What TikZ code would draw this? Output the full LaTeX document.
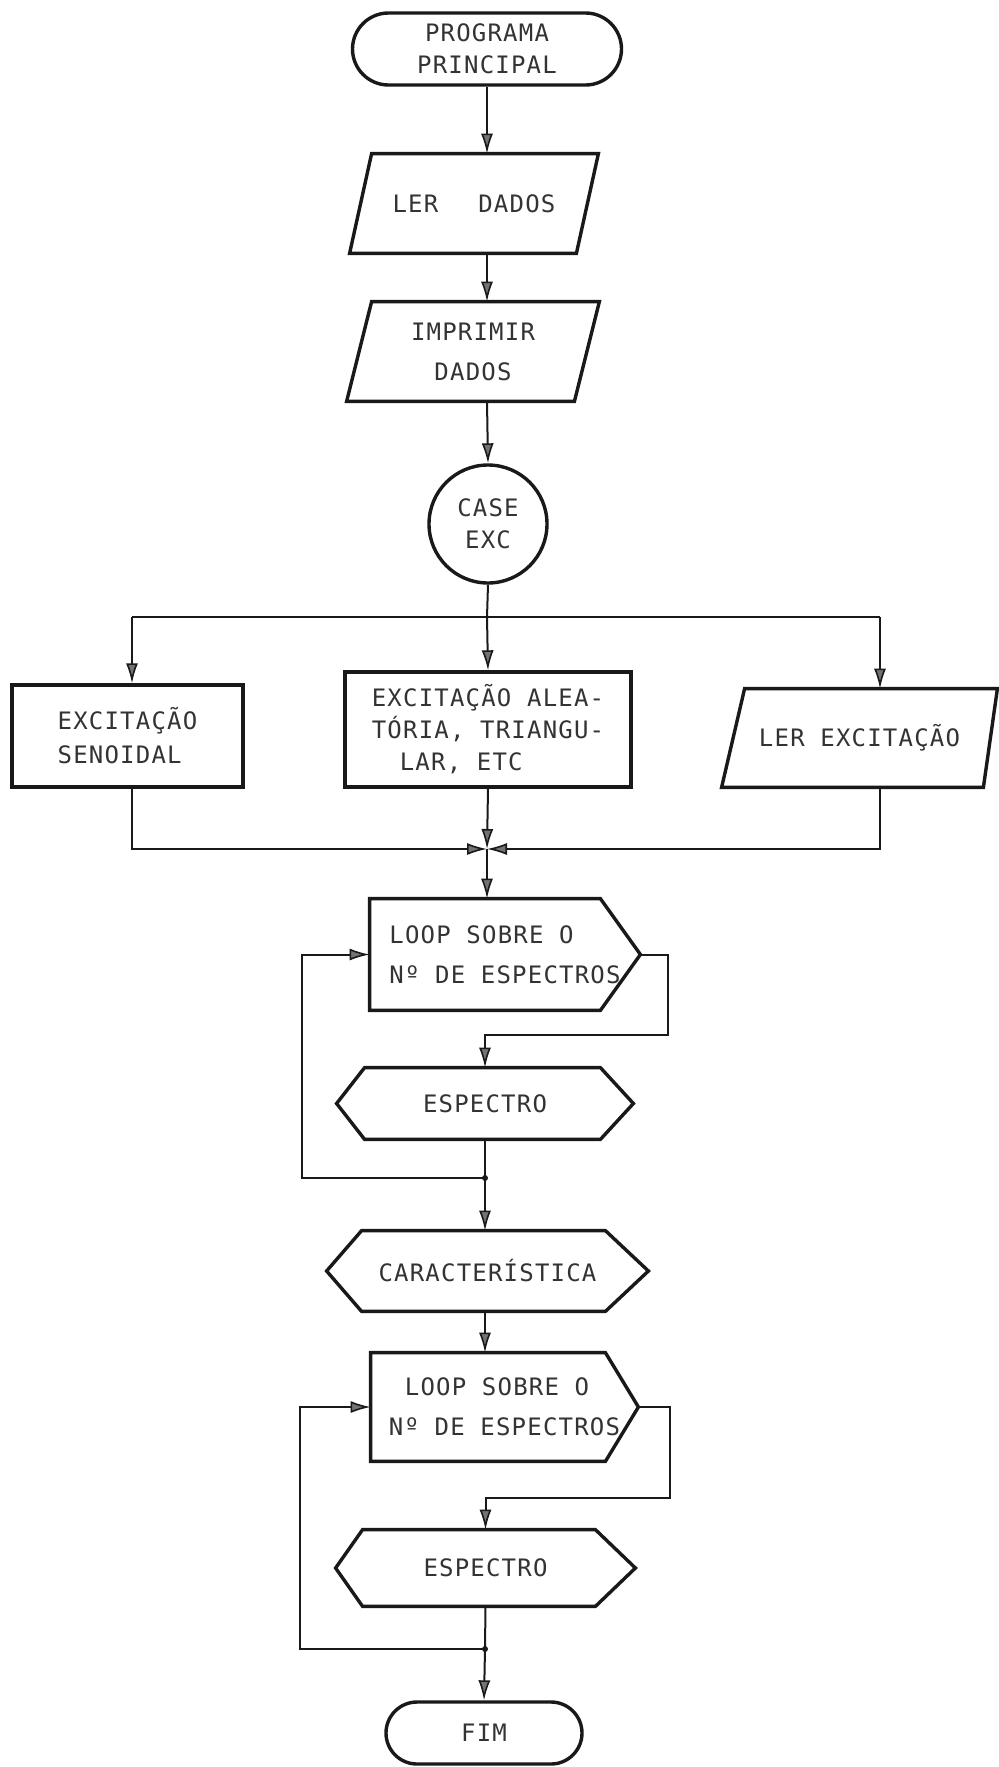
\documentclass[tikz,border=0pt]{standalone}
\usepackage{fontspec}
\usetikzlibrary{arrows.meta,shapes.misc,calc}
\newfontfamily\lett{DejaVu Sans Mono}[LetterSpace=5]
\begin{document}
\begin{tikzpicture}[x=0.5pt,y=-0.5pt,
  box/.style={line width=1.7pt, draw=black!90},
  conn/.style={line width=1pt, draw=black!90},
  arr/.style={conn,-{Latex[length=10pt,width=6pt,fill=black!55,line width=0.8pt]}},
  txt/.style={font=\lett\fontsize{12}{16}\selectfont, text=black!80, inner sep=0pt, align=center},
  term/.style={txt, rounded rectangle, box},
  plain/.style={txt, rectangle},
]
\useasboundingbox (0,0) rectangle (998,1767);
\fill[white] (0,0) rectangle (998,1767);

% nodes
\node[term, minimum width=134.5pt, minimum height=36pt] (start) at (487,49) {PROGRAMA\\PRINCIPAL};

\node[plain, minimum width=124pt, minimum height=49.5pt] (ler) at (474,203.5) {LER\hspace{20pt}DADOS};
\draw[box] ($(ler.north west)+(22,0)$) -- (ler.north east) -- ($(ler.south east)-(22,0)$) -- (ler.south west) -- cycle;

\node[plain, minimum width=126pt, minimum height=49.5pt] (imp) at (473,351.5) {IMPRIMIR\\[4pt]DADOS};
\draw[box] ($(imp.north west)+(25,0)$) -- (imp.north east) -- ($(imp.south east)-(25,0)$) -- (imp.south west) -- cycle;

\node[txt, circle, box, minimum size=59pt] (case) at (488,524) {CASE\\EXC};

\node[plain, box, minimum width=115.5pt, minimum height=51pt, align=left] (sen) at (127.5,736) {EXCITAÇÃO\\[1pt]SENOIDAL};
\node[plain, box, minimum width=143pt, minimum height=57.5pt, align=left] (mid) at (488,729.5) {EXCITAÇÃO ALEA-\\TÓRIA, TRIANGU-\\\hspace*{14pt}LAR, ETC};
\node[plain, minimum width=137.5pt, minimum height=49pt] (lerexc) at (859.5,738) {LER EXCITAÇÃO};
\draw[box] ($(lerexc.north west)+(23,0)$) -- (lerexc.north east) -- ($(lerexc.south east)-(14,0)$) -- (lerexc.south west) -- cycle;

\node[plain, minimum width=135pt, minimum height=55.5pt, align=left] (loop1) at (505,954.5) {LOOP SOBRE O\\[4pt]Nº DE ESPECTROS};
\draw[box] (loop1.north west) -- ($(loop1.north east)-(40,0)$) -- (loop1.east) -- ($(loop1.south east)-(40,0)$) -- (loop1.south west) -- cycle;

\node[plain, minimum width=148pt, minimum height=35.5pt] (esp1) at (485,1103.5) {ESPECTRO};
\draw[box] (esp1.west) -- ($(esp1.north west)+(28,0)$) -- ($(esp1.north east)-(33,0)$) -- (esp1.east) -- ($(esp1.south east)-(33,0)$) -- ($(esp1.south west)+(28,0)$) -- cycle;

\node[plain, minimum width=160.5pt, minimum height=40pt] (char) at (487.5,1271) {CARACTERÍSTICA};
\draw[box] (char.west) -- ($(char.north west)+(35,0)$) -- ($(char.north east)-(43,0)$) -- (char.east) -- ($(char.south east)-(43,0)$) -- ($(char.south west)+(35,0)$) -- cycle;

\node[plain, minimum width=133.5pt, minimum height=54pt, align=left] (loop2) at (504.5,1407) {\hspace*{8pt}LOOP SOBRE O\\[4pt]Nº DE ESPECTROS};
\draw[box] (loop2.north west) -- ($(loop2.north east)-(33,0)$) -- (loop2.east) -- ($(loop2.south east)-(33,0)$) -- (loop2.south west) -- cycle;

\node[plain, minimum width=149.5pt, minimum height=38pt] (esp2) at (485.5,1568) {ESPECTRO};
\draw[box] (esp2.west) -- ($(esp2.north west)+(27,0)$) -- ($(esp2.north east)-(40,0)$) -- (esp2.east) -- ($(esp2.south east)-(40,0)$) -- ($(esp2.south west)+(27,0)$) -- cycle;

\node[term, minimum width=98pt, minimum height=31pt] (fim) at (484,1733) {FIM};

% coordinates
\coordinate (split) at (487,617);
\coordinate (sl) at (132,617);
\coordinate (sr) at (880,617);
\coordinate (merge) at (487,849);
\coordinate (j1) at (485,1178);
\coordinate (j2) at (485,1649);

% connectors
\draw[arr] (start.south) -- (start.south |- ler.north);
\draw[arr] (start.south |- ler.south) -- (start.south |- imp.north);
\draw[arr] (start.south |- imp.south) -- (case.north);
\draw[conn] (case.south) -- (split);
\draw[conn] (sl) -- (sr);
\draw[arr] (sl) -- (sl |- sen.north);
\draw[arr] (split) -- (mid.north);
\draw[arr] (sr) -- (sr |- lerexc.north);
\draw[arr] (sl |- sen.south) -- (sl |- merge) -- (merge);
\draw[arr] (sr |- lerexc.south) -- (sr |- merge) -- (merge);
\draw[arr] (mid.south) -- (merge);
\draw[arr] (merge) -- (merge |- loop1.north);
\draw[arr] (loop1.east) -- ++(28,0) -- ++(0,80.5) -| (esp1.north);
\draw[conn] (esp1.south) -- (j1);
\fill[black!90] (j1) circle (3);
\draw[arr] (j1) -- ++(-183,0) |- (loop1.west);
\draw[arr] (j1) -- (j1 |- char.north);
\draw[arr] (j1 |- char.south) -- (j1 |- loop2.north);
\draw[arr] (loop2.east) -- ++(32,0) -- ++(0,91) -| (esp2.north);
\draw[conn] (esp2.south) -- (j2);
\fill[black!90] (j2) circle (3);
\draw[arr] (j2) -- ++(-185,0) |- (loop2.west);
\draw[arr] (j2) -- (fim.north);
\end{tikzpicture}
\end{document}
